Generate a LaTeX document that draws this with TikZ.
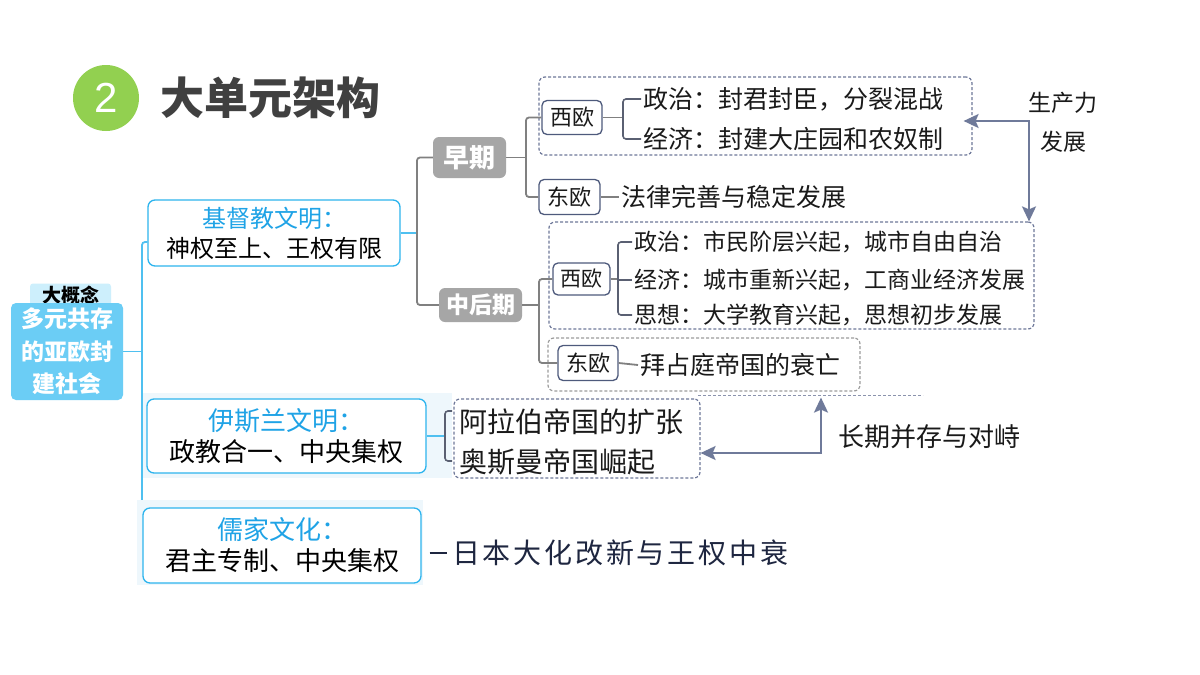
\documentclass[tikz,border=0pt]{standalone}
\usepackage{fontspec}
\setmainfont{Noto Sans CJK SC}
\newfontfamily\numfont{Liberation Sans}
\newfontfamily\spacedcjk[LetterSpace=10]{Noto Sans CJK SC}
\usetikzlibrary{arrows.meta,backgrounds}
\definecolor{greenC}{HTML}{92D050}
\definecolor{titleC}{HTML}{404040}
\definecolor{rootC}{HTML}{6BCDF5}
\definecolor{tabC}{HTML}{CDEFFC}
\definecolor{cyanB}{HTML}{2DB4EE}
\definecolor{blueT}{HTML}{1FA3E6}
\definecolor{trunkC}{HTML}{4FC0F0}
\definecolor{panelC}{HTML}{EEF7FC}
\definecolor{grayP}{HTML}{A6A6A6}
\definecolor{grayL}{HTML}{808080}
\definecolor{darkL}{HTML}{5A6072}
\definecolor{regB}{HTML}{4E5A7C}
\definecolor{dashB}{HTML}{6E7899}
\definecolor{dashG}{HTML}{9C9C9C}
\definecolor{arrowC}{HTML}{6F7A9A}
\definecolor{txtC}{HTML}{1A1A1A}
\definecolor{navyT}{HTML}{1E2640}
\newcommand{\fsz}[1]{\fontsize{#1}{#1}\selectfont}
\begin{document}
\begin{tikzpicture}[x=1pt,y=-1pt,
  conn/.style={draw=grayL, line width=1.8pt, rounded corners=3pt},
  dconn/.style={draw=darkL, line width=1.6pt, rounded corners=3pt},
  bconn/.style={draw=trunkC, line width=1.8pt, rounded corners=3pt},
  civbox/.style={draw=cyanB, line width=1.3pt, rounded corners=7pt, fill=white, align=center, inner sep=0pt},
  period/.style={fill=grayP, rounded corners=6pt, text=white, inner sep=0pt},
  region/.style={draw=regB, line width=1.3pt, rounded corners=5pt, fill=white, inner sep=0pt, text=txtC, font=\fsz{22}},
  grp/.style={draw=dashB, line width=1.2pt, dash pattern=on 3pt off 2pt, rounded corners=6pt, inner sep=0pt},
  detail/.style={anchor=west, inner sep=2pt, text=txtC},
  relarrow/.style={draw=arrowC, line width=2pt, {Stealth[length=15pt,width=14pt,inset=3pt]}-{Stealth[length=15pt,width=14pt,inset=3pt]}}
]
\useasboundingbox (0,0) rectangle (1200,675);

% title
\node[circle, fill=greenC, minimum size=66pt, inner sep=0pt, text=white, font=\numfont\fsz{42}] (num) at (106,98) {2};
\node[anchor=west, inner sep=0pt, text=titleC, font=\fsz{44}\bfseries] (title) at (160,98) {大单元架构};

% root
\node[fill=tabC, rounded corners=3pt, minimum width=81pt, minimum height=23pt, inner sep=0pt, text=black, font=\fsz{19}\bfseries] (tab) at (70.5,295) {大概念};
\node[fill=rootC, rounded corners=5pt, minimum width=112pt, minimum height=97pt, inner sep=0pt, text=white, align=center, font=\fontsize{23}{32.5}\selectfont\bfseries] (root) at (67,351.5) {多元共存\\的亚欧封\\建社会};

% civilisations
\node[civbox, minimum width=252pt, minimum height=66pt, font=\fontsize{24}{30}\selectfont] (c1) at (274,233) {\textcolor{blueT}{基督教文明：}\\神权至上、王权有限};
\node[civbox, minimum width=279pt, minimum height=74pt, font=\fontsize{26}{31}\selectfont] (c2) at (286.5,436) {\textcolor{blueT}{伊斯兰文明：}\\政教合一、中央集权};
\node[civbox, minimum width=278pt, minimum height=75pt, font=\fontsize{26}{31}\selectfont] (c3) at (282,545.5) {\textcolor{blueT}{儒家文化：}\\君主专制、中央集权};

% periods
\node[period, minimum width=73pt, minimum height=41pt, font=\fsz{26}\bfseries] (e1) at (469.5,157.5) {早期};
\node[period, minimum width=83pt, minimum height=34pt, font=\fsz{23}\bfseries] (m1) at (480.5,305) {中后期};

% groups
\node[grp, minimum width=433pt, minimum height=78pt] (g1) at (755.5,116) {};
\node[grp, minimum width=485pt, minimum height=107pt] (g2) at (791.5,275.5) {};
\node[grp, draw=dashG, minimum width=312pt, minimum height=53pt] (g3) at (704,364.5) {};
\node[grp, minimum width=246pt, minimum height=79pt] (g4) at (577,438.5) {};

% regions
\node[region, minimum width=60pt, minimum height=34pt] (w1) at (572,117.5) {西欧};
\node[region, minimum width=61pt, minimum height=35pt] (w2) at (569.5,197) {东欧};
\node[region, minimum width=57pt, minimum height=32pt, font=\fsz{21}] (w3) at (581.5,279) {西欧};
\node[region, minimum width=60pt, minimum height=35pt] (w4) at (588,363) {东欧};

% details
\node[detail, font=\fsz{25}] (t11) at (641,99) {政治：封君封臣，分裂混战};
\node[detail, font=\fsz{25}] (t12) at (641,139) {经济：封建大庄园和农奴制};
\node[detail, font=\fsz{25}] (t2) at (619,197) {法律完善与稳定发展};
\node[detail, font=\fsz{23}] (t31) at (632,242) {政治：市民阶层兴起，城市自由自治};
\node[detail, font=\fsz{23}] (t32) at (632,280) {经济：城市重新兴起，工商业经济发展};
\node[detail, font=\fsz{23}] (t33) at (632,315) {思想：大学教育兴起，思想初步发展};
\node[detail, font=\fsz{25}] (t4) at (638,365) {拜占庭帝国的衰亡};
\node[detail, font=\fsz{28}] (t51) at (457,422) {阿拉伯帝国的扩张};
\node[detail, font=\fsz{28}] (t52) at (457,462) {奥斯曼帝国崛起};
\node[detail, text=navyT, inner sep=0pt, font=\spacedcjk\fsz{28}] (t6) at (452,553) {日本大化改新与王权中衰};

% labels
\node[align=center, text=txtC, inner sep=0pt, font=\fontsize{23}{39}\selectfont] (lab1) at (1063,122) {生产力\\发展};
\node[anchor=west, text=txtC, inner sep=0pt, font=\fsz{26}] (lab2) at (838,437) {长期并存与对峙};

% helper coordinates
\coordinate (tk) at (142,0);
\coordinate (pk) at (417,0);
\coordinate (ek) at (526,0);
\coordinate (bk1) at (623,0);
\coordinate (mk) at (539,0);
\coordinate (bk2) at (618,0);
\coordinate (bk3) at (445,0);
\coordinate (b3t) at (452,411);
\coordinate (b3b) at (452,461);
\coordinate (a1) at (1029,121);
\coordinate (a2) at (821,453);

\begin{scope}[on background layer]
  \fill[white] (0,0) rectangle (1200,675);
  \draw[bconn] (root.east) -- (root.east -| tk);
  \draw[bconn] ([yshift=-9pt]c1.west) -- ([yshift=-9pt]c1.west -| tk) -- (c3.west -| tk) -- (c3.west);
  \draw[bconn] (c2.west -| tk) -- (c2.west);
  \fill[panelC] (143,393) rectangle (452,478);
  \fill[panelC] (137,500) rectangle (423,585);
\end{scope}

% connectors
\draw[bconn] (c1.east) -- (c1.east -| pk);
\draw[conn] (e1.west) -- (e1.west -| pk) -- (m1.west -| pk) -- (m1.west);
\draw[conn] (e1.east) -- (e1.east -| ek);
\draw[conn] (w1.west) -- (w1.west -| ek) -- (w2.west -| ek) -- (w2.west);
\draw[conn] (w1.east) -- (w1.east -| bk1);
\draw[dconn] (t11.west) -- (t11.west -| bk1) -- (t12.west -| bk1) -- (t12.west);
\draw[conn] (w2.east) -- (t2.west);
\draw[conn] (m1.east) -- (m1.east -| mk);
\draw[conn] (w3.west) -- (w3.west -| mk) -- (w4.west -| mk) -- (w4.west);
\draw[conn] (w3.east) -- (w3.east -| bk2);
\draw[dconn] (t31.west) -- (t31.west -| bk2) -- (t33.west -| bk2) -- (t33.west);
\draw[dconn] (t32.west -| bk2) -- (t32.west);
\draw[conn] (w4.east) -- (t4.west);
\draw[bconn] (c2.east) -- (c2.east -| bk3);
\draw[dconn] (b3t) -- (b3t -| bk3) -- (b3b -| bk3) -- (b3b);
\draw[draw=navyT, line width=1.6pt] ([xshift=8pt]c3.east |- t6.west) -- ([xshift=-5pt]t6.west);

% stray dashed line
\draw[draw=dashB!80, line width=0.8pt, dash pattern=on 3pt off 2pt] (698,395) -- (923,395);

% relation arrows
\draw[relarrow] ([xshift=-9pt,yshift=-5pt]g1.east) -- (a1) -- (g2.north -| a1);
\draw[relarrow] ([yshift=-14.5pt]g4.east) -- (a2) -- ([yshift=-6pt]g3.south -| a2);
\end{tikzpicture}
\end{document}
